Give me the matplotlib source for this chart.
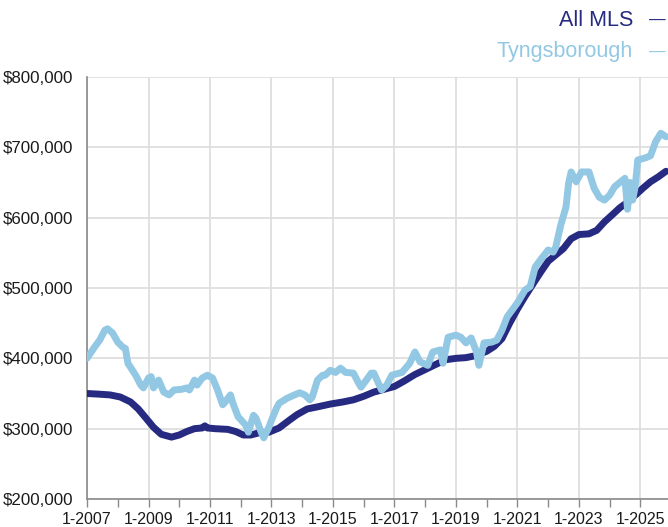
import matplotlib
matplotlib.use("Agg")
import matplotlib.pyplot as plt
import matplotlib.dates as mdates
import pandas as pd
from matplotlib.ticker import FuncFormatter, FixedLocator

plt.rcParams['font.family'] = ['Liberation Sans', 'DejaVu Sans']

series_names = ["All MLS", "Tyngsborough"]
colors = ["#262a80", "#93c8e4"]

mls_dates = ["2007-01", "2007-06", "2007-10", "2008-02", "2008-06", "2008-09", "2008-12",
             "2009-03", "2009-06", "2009-10", "2010-01", "2010-04", "2010-07", "2010-10",
             "2010-11", "2010-12", "2011-03", "2011-08", "2011-11", "2012-02", "2012-05",
             "2012-08", "2012-12", "2013-04", "2013-08", "2013-11", "2014-03", "2014-07",
             "2014-12", "2015-05", "2015-09", "2016-01", "2016-05", "2016-09", "2017-01",
             "2017-05", "2017-09", "2018-01", "2018-05", "2018-09", "2019-01", "2019-05",
             "2019-09", "2020-01", "2020-04", "2020-07", "2020-10", "2021-01", "2021-04",
             "2021-07", "2021-10", "2022-01", "2022-04", "2022-07", "2022-10", "2023-01",
             "2023-05", "2023-08", "2023-11", "2024-02", "2024-05", "2024-08", "2024-11",
             "2025-02", "2025-05", "2025-08", "2025-11"]
mls_values = [350, 349, 348, 345, 338, 328, 315,
              302, 292, 288, 291, 296, 300, 301,
              304, 301, 300, 299, 296, 291, 291,
              294, 295, 301, 312, 320, 328, 331,
              335, 338, 341, 346, 352, 356, 360,
              368, 377, 384, 391, 398, 400, 401,
              404, 410, 417, 428, 450, 470, 488,
              505, 522, 538, 547, 556, 570, 576,
              577, 582, 594, 604, 614, 622, 632,
              642, 651, 658, 666]

tyng_dates = ["2007-01", "2007-04", "2007-06", "2007-08", "2007-09", "2007-11", "2008-01",
              "2008-03", "2008-04", "2008-05", "2008-08", "2008-10", "2008-11", "2009-01",
              "2009-02", "2009-03", "2009-05", "2009-07", "2009-09", "2009-11", "2010-02",
              "2010-04", "2010-05", "2010-07", "2010-08", "2010-10", "2010-12", "2011-02",
              "2011-04", "2011-06", "2011-07", "2011-09", "2011-10", "2011-12", "2012-03",
              "2012-04", "2012-06", "2012-07", "2012-09", "2012-10", "2012-12", "2013-01",
              "2013-03", "2013-04", "2013-07", "2013-10", "2013-12", "2014-02", "2014-04",
              "2014-05", "2014-07", "2014-09", "2014-10", "2014-12", "2015-02", "2015-04",
              "2015-06", "2015-09", "2015-11", "2015-12", "2016-02", "2016-04", "2016-05",
              "2016-08", "2016-10", "2016-12", "2017-04", "2017-07", "2017-09", "2017-11",
              "2018-02", "2018-04", "2018-07", "2018-08", "2018-10", "2019-01", "2019-03",
              "2019-05", "2019-07", "2019-09", "2019-10", "2019-12", "2020-03", "2020-05",
              "2020-07", "2020-09", "2020-11", "2021-01", "2021-04", "2021-06", "2021-08",
              "2021-10", "2022-01", "2022-03", "2022-04", "2022-06", "2022-08", "2022-09",
              "2022-10", "2022-12", "2023-02", "2023-05", "2023-07", "2023-09", "2023-11",
              "2024-01", "2024-03", "2024-05", "2024-07", "2024-08", "2024-09", "2024-10",
              "2024-11", "2024-12", "2025-03", "2025-05", "2025-07", "2025-09", "2025-11"]
tyng_values = [400, 416, 426, 440, 442, 436, 423,
               416, 414, 393, 376, 362, 358, 372,
               374, 358, 369, 352, 348, 355, 356,
               358, 355, 369, 362, 372, 376, 372,
               355, 334, 338, 348, 336, 317, 305,
               295, 319, 315, 295, 287, 302, 312,
               329, 336, 343, 348, 351, 348, 341,
               345, 369, 376, 376, 383, 380, 386,
               380, 379, 365, 359, 369, 379, 379,
               355, 362, 376, 380, 393, 409, 395,
               390, 409, 412, 393, 430, 433, 430,
               422, 429, 410, 390, 422, 423, 426,
               440, 459, 469, 479, 497, 502, 530,
               540, 554, 551, 558, 590, 615, 649,
               665, 651, 665, 665, 642, 629, 625,
               632, 644, 650, 656, 612, 650, 625,
               645, 682, 685, 688, 708, 720, 715]

y_ticks = [200000, 300000, 400000, 500000, 600000, 700000, 800000]
x_major_years = list(range(2007, 2026, 2))
x_minor_years = list(range(2008, 2026, 2))

fig = plt.figure(figsize=(6.68, 5.27), dpi=100)
ax = fig.add_axes([87/668, 1-499/527, (668-87)/668, (499-77)/527])

for name, col, d, v in [(series_names[0], colors[0], mls_dates, mls_values),
                        (series_names[1], colors[1], tyng_dates, tyng_values)]:
    x = pd.to_datetime(d)
    ax.plot(x, [val*1000 for val in v], color=col, lw=5.0, solid_joinstyle='round',
            solid_capstyle='round', zorder=3 if name == "All MLS" else 4)

ax.set_ylim(200000, 800000)
ax.set_xlim(pd.Timestamp("2007-01-01"), pd.Timestamp("2025-11-25"))
ax.set_yticks(y_ticks)
ax.yaxis.set_major_formatter(FuncFormatter(lambda v, p: "${:,.0f}".format(v)))
ax.xaxis.set_major_locator(FixedLocator(
    [mdates.date2num(pd.Timestamp(f"{y}-01-01")) for y in x_major_years]))
ax.xaxis.set_minor_locator(FixedLocator(
    [mdates.date2num(pd.Timestamp(f"{y}-01-01")) for y in x_minor_years]))
ax.xaxis.set_major_formatter(FuncFormatter(lambda v, p: "1-" + mdates.num2date(v).strftime("%Y")))

ax.grid(True, which='major', color='#dedede', lw=1.3)
ax.set_axisbelow(True)
for s in ['top', 'right']:
    ax.spines[s].set_visible(False)
for s in ['left', 'bottom']:
    ax.spines[s].set_color('#8a8a8a')
    ax.spines[s].set_linewidth(1.2)
ax.tick_params(axis='x', which='both', length=6, color='#8a8a8a', width=1.0,
               labelsize=11.5, labelcolor='#1a1a1a', pad=3)
ax.tick_params(axis='y', length=0, labelsize=12.2, labelcolor='#1a1a1a', pad=10)

fig.text(633/668, 1-20/527, series_names[0], color=colors[0], fontsize=15.5,
         ha='right', va='center')
fig.text(666/668, 1-20/527, "\u2014", color=colors[0], fontsize=12, ha='right', va='center')
fig.text(633/668, 1-52/527, series_names[1], color=colors[1], fontsize=15.5,
         ha='right', va='center')
fig.text(666/668, 1-52/527, "\u2014", color=colors[1], fontsize=12, ha='right', va='center')

fig.savefig("out.png", dpi=100)
